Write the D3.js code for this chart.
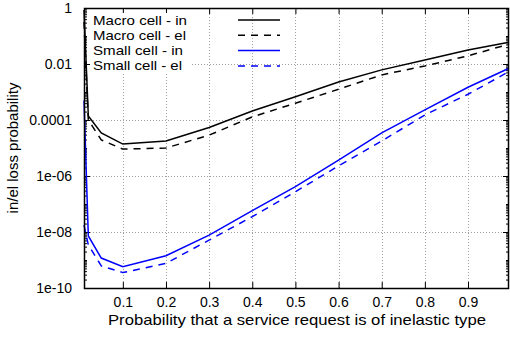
<!DOCTYPE html>
<html><head><meta charset="utf-8">
<script src="https://cdn.jsdelivr.net/npm/d3@7"></script>
<style>body{margin:0;background:#fff}svg{display:block}text{font-family:"Liberation Sans",Arial,sans-serif}</style>
</head><body>
<svg id="c" width="510" height="341"></svg>
<script>
const xValues = [0.01, 0.02, 0.05, 0.1, 0.2, 0.3, 0.4, 0.5, 0.6, 0.7, 0.8, 0.9, 0.995];
// log10 of loss probability
const macroIn  = [-0.07, -3.86, -4.46, -4.86, -4.75, -4.27, -3.68, -3.17, -2.64, -2.21, -1.86, -1.50, -1.22];
const macroEl  = [-0.50, -4.00, -4.71, -5.04, -5.00, -4.54, -3.89, -3.40, -2.90, -2.39, -2.07, -1.71, -1.29];
const smallIn  = [-3.30, -8.14, -8.93, -9.24, -8.85, -8.11, -7.24, -6.38, -5.43, -4.46, -3.64, -2.83, -2.15];
const smallEl  = [-7.75, -8.46, -9.21, -9.45, -9.12, -8.29, -7.45, -6.56, -5.64, -4.75, -3.82, -3.08, -2.27];
const seriesNames = ["Macro cell - in", "Macro cell - el", "Small cell - in", "Small cell - el"];
const xTicks = [0.1, 0.2, 0.3, 0.4, 0.5, 0.6, 0.7, 0.8, 0.9];
const yTicks = [1, 1e-2, 1e-4, 1e-6, 1e-8, 1e-10];
const yTickLabels = ["1", "0.01", "0.0001", "1e-06", "1e-08", "1e-10"];
const xTitle = "Probability that a service request is of inelastic type";
const yTitle = "in/el loss probability";

const L = 84, R = 509, T = 8, B = 288;
const svg = d3.select("#c");
const x = d3.scaleLinear().domain([0.01, 0.995]).range([L, R]);
const y = d3.scaleLog().domain([1e-10, 1]).range([B, T]);

const series = [
  {name: seriesNames[0], v: macroIn, color: "#000", dash: null, w: 94},
  {name: seriesNames[1], v: macroEl, color: "#000", dash: "7,6", w: 93},
  {name: seriesNames[2], v: smallIn, color: "#0000ff", dash: null, w: 90},
  {name: seriesNames[3], v: smallEl, color: "#0000ff", dash: "7,6", w: 89}
];

// grid
const grid = svg.append("g").attr("stroke", "#a0a0a0").attr("stroke-width", 1).attr("stroke-dasharray", "1,2");
grid.selectAll(".gx").data(xTicks).join("line")
  .attr("x1", d => Math.round(x(d)) + 0.5).attr("x2", d => Math.round(x(d)) + 0.5)
  .attr("y1", T).attr("y2", B);
grid.selectAll(".gy").data(yTicks.slice(1, -1)).join("line")
  .attr("y1", d => Math.round(y(d)) + 0.5).attr("y2", d => Math.round(y(d)) + 0.5)
  .attr("x1", L).attr("x2", R);

// axes with inward ticks
const minor = [];
for (let e = -10; e < 0; e++) for (let m = 1; m <= 9; m++) {
  const v = m * Math.pow(10, e);
  if (!yTicks.some(t => Math.abs(Math.log10(t) - Math.log10(v)) < 1e-9)) minor.push(v);
}
const fmtY = d => yTickLabels[yTicks.findIndex(t => Math.abs(Math.log10(t) - Math.log10(d)) < 1e-9)];
const axL = svg.append("g").attr("transform", `translate(${L},0)`)
  .call(d3.axisLeft(y).tickValues(yTicks).tickFormat(fmtY).tickSizeInner(-6).tickSizeOuter(0).tickPadding(12));
const axLm = svg.append("g").attr("transform", `translate(${L},0)`)
  .call(d3.axisLeft(y).tickValues(minor).tickFormat("").tickSizeInner(-3).tickSizeOuter(0));
const axR = svg.append("g").attr("transform", `translate(${R},0)`)
  .call(d3.axisRight(y).tickValues(yTicks).tickFormat("").tickSizeInner(-6).tickSizeOuter(0));
const axRm = svg.append("g").attr("transform", `translate(${R},0)`)
  .call(d3.axisRight(y).tickValues(minor).tickFormat("").tickSizeInner(-3).tickSizeOuter(0));
const axB = svg.append("g").attr("transform", `translate(0,${B})`)
  .call(d3.axisBottom(x).tickValues(xTicks).tickFormat(d3.format(".1f")).tickSizeInner(-6).tickSizeOuter(0).tickPadding(9));
const axT = svg.append("g").attr("transform", `translate(0,${T})`)
  .call(d3.axisTop(x).tickValues(xTicks).tickFormat("").tickSizeInner(-6).tickSizeOuter(0));
[axL, axLm, axR, axRm, axB, axT].forEach(a => {
  a.select(".domain").remove();
  a.selectAll("line").attr("stroke", "#000");
  a.selectAll("text").attr("font-size", 14).attr("fill", "#000").attr("font-family", '"Liberation Sans",Arial,sans-serif');
});

// lines
const line = d3.line().x((d, i) => x(xValues[i])).y(d => y(Math.pow(10, d)));
svg.append("g").selectAll("path").data(series).join("path")
  .attr("d", d => line(d.v)).attr("fill", "none")
  .attr("stroke", d => d.color).attr("stroke-width", 1.5)
  .attr("stroke-dasharray", d => d.dash);

// border
svg.append("rect").attr("x", L + 0.5).attr("y", T + 0.5).attr("width", R - L - 1).attr("height", B - T)
  .attr("fill", "none").attr("stroke", "#000").attr("stroke-width", 1.5);

// legend
const lg = svg.append("g");
series.forEach((s, i) => {
  const yy = 20 + i * 15.3;
  lg.append("rect").attr("x", 90).attr("y", yy - 7).attr("width", 100).attr("height", 14).attr("fill", "#fff");
  lg.append("text").attr("x", 93).attr("y", yy + 4.5).attr("font-size", 13)
    .attr("textLength", s.w).attr("lengthAdjust", "spacingAndGlyphs").text(s.name);
  lg.append("line").attr("x1", 238).attr("x2", 280).attr("y1", yy).attr("y2", yy)
    .attr("stroke", s.color).attr("stroke-width", 1.5).attr("stroke-dasharray", s.dash);
});

// titles
svg.append("text").attr("x", 297).attr("y", 325).attr("text-anchor", "middle")
  .attr("font-size", 15).attr("textLength", 378).attr("lengthAdjust", "spacingAndGlyphs").text(xTitle);
svg.append("text").attr("transform", `translate(18,${(T + B) / 2}) rotate(-90)`).attr("text-anchor", "middle")
  .attr("font-size", 15).text(yTitle);
</script>
</body></html>
